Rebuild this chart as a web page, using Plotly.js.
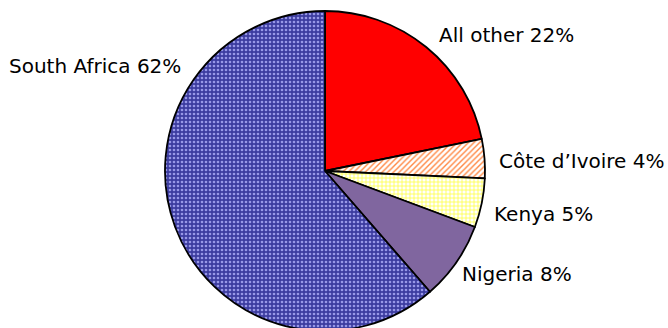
<!DOCTYPE html>
<html><head><meta charset="utf-8">
<script src="https://cdn.plot.ly/plotly-3.0.1.min.js"></script>
<style>html,body{margin:0;padding:0;overflow:hidden;background:#fff}#chart{width:668px;height:335px}</style>
</head><body><div id="chart"></div>
<script>
const categories = ["All other", "Côte d’Ivoire", "Kenya", "Nigeria", "South Africa"];
const shares = [22, 4, 5, 8, 62];

const sliceColors = ["#ff0000", "#ffffff", "#ffff99", "#80669f", "#5050b4"];
const patShapes = ["", "/", "+", "", "."];
const patFg = ["#ff0000", "#ff8844", "#ffff40", "#80669f", "#9898e8"];
const patBg = ["#ff0000", "#ffffff", "#ffffff", "#80669f", "#3c3ca0"];

// label placements (pixels, left-anchored)
const labelPos = [[437, 35], [497, 161], [492, 214], [460, 274], [7, 66]];
const W = 668, H = 335;

const annotations = categories.map((c, i) => ({
  text: c + " " + shares[i] + "%",
  x: labelPos[i][0] / W, y: 1 - labelPos[i][1] / H,
  xref: "paper", yref: "paper", xanchor: "left", yanchor: "middle",
  showarrow: false, font: {family: "DejaVu Sans, Verdana, sans-serif", size: 20, color: "#000"}
}));

const trace = {
  type: "pie",
  labels: categories,
  values: shares,
  sort: false,
  direction: "clockwise",
  rotation: 0,
  textinfo: "none",
  hoverinfo: "label+percent",
  marker: {
    colors: sliceColors,
    line: {color: "#000", width: 1.8},
    pattern: {shape: patShapes, fgcolor: patFg, bgcolor: patBg, size: 4, solidity: 0.35, fillmode: "replace"}
  },
  domain: {x: [165 / W, 485 / W], y: [(H - 331) / H, (H - 11) / H]},
  showlegend: false
};

Plotly.newPlot("chart", [trace], {
  width: W, height: H,
  margin: {l: 0, r: 0, t: 0, b: 0},
  paper_bgcolor: "#fff",
  annotations: annotations
}, {staticPlot: true});
</script></body></html>
